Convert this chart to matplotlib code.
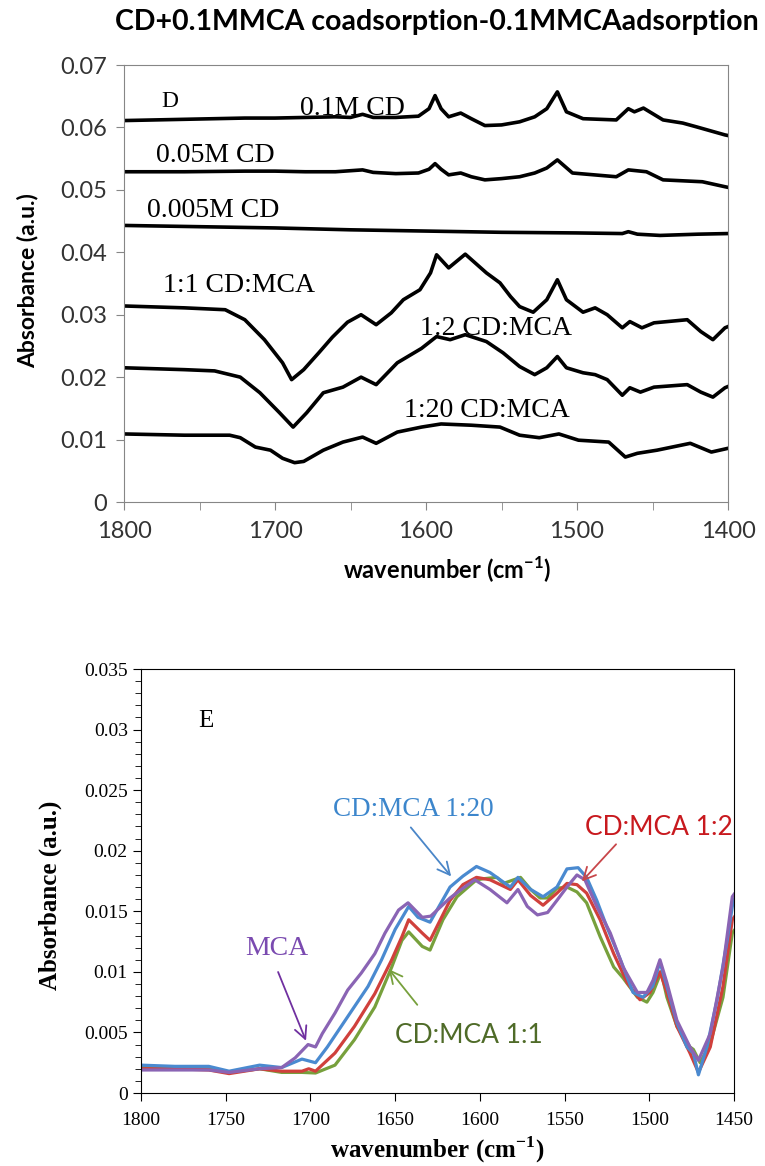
import matplotlib
matplotlib.use("Agg")
import matplotlib.pyplot as plt
from matplotlib.ticker import MultipleLocator, FixedLocator

# ---- panel D data (wavenumber, absorbance) ----
d01_wn = [1800, 1780, 1760, 1740, 1720, 1700, 1680, 1660, 1650, 1642, 1635, 1620, 1605, 1598, 1594,
          1590, 1585, 1577, 1570, 1561, 1550, 1538, 1528, 1520, 1513, 1507, 1496, 1474, 1466, 1462,
          1456, 1443, 1430, 1421, 1402, 1400]
d01_ab = [0.0611, 0.0612, 0.0613, 0.0614, 0.0615, 0.0615, 0.0616, 0.0617, 0.0616, 0.0621, 0.0616, 0.0616,
          0.0618, 0.0630, 0.0651, 0.0630, 0.0617, 0.0623, 0.0614, 0.0603, 0.0604, 0.0609, 0.0617, 0.0630,
          0.0657, 0.0625, 0.0614, 0.0612, 0.0630, 0.0625, 0.0631, 0.0612, 0.0607, 0.0601, 0.0588, 0.0587]

d005_wn = [1800, 1760, 1720, 1700, 1680, 1660, 1642, 1635, 1620, 1605, 1598, 1594, 1590, 1585, 1577,
           1570, 1561, 1550, 1538, 1528, 1520, 1513, 1503, 1474, 1466, 1454, 1443, 1417, 1402, 1400]
d005_ab = [0.0529, 0.0529, 0.0530, 0.0530, 0.0529, 0.0529, 0.0532, 0.0528, 0.0526, 0.0527, 0.0533, 0.0542,
           0.0533, 0.0524, 0.0527, 0.0521, 0.0516, 0.0518, 0.0521, 0.0527, 0.0535, 0.0548, 0.0527, 0.0521,
           0.0532, 0.0529, 0.0516, 0.0513, 0.0505, 0.0504]

d0005_wn = [1800, 1750, 1700, 1650, 1600, 1550, 1500, 1470, 1466, 1460, 1445, 1420, 1400]
d0005_ab = [0.0443, 0.0441, 0.0439, 0.0436, 0.0434, 0.0432, 0.0431, 0.0430, 0.0433, 0.0429, 0.0427,
            0.0429, 0.0430]

r11_wn = [1800, 1760, 1733, 1720, 1707, 1695, 1689, 1681, 1671, 1662, 1652, 1643, 1633, 1623, 1615,
          1604, 1597, 1593, 1585, 1574, 1560, 1551, 1544, 1538, 1529, 1520, 1513, 1507, 1496, 1488,
          1480, 1470, 1465, 1457, 1449, 1427, 1418, 1410, 1402, 1400]
r11_ab = [0.0314, 0.0311, 0.0308, 0.0292, 0.0260, 0.0223, 0.0196, 0.0212, 0.0239, 0.0264, 0.0288, 0.0300,
          0.0284, 0.0303, 0.0324, 0.0340, 0.0367, 0.0396, 0.0375, 0.0397, 0.0367, 0.0351, 0.0329, 0.0313,
          0.0304, 0.0324, 0.0356, 0.0324, 0.0304, 0.0311, 0.0300, 0.0279, 0.0289, 0.0279, 0.0287, 0.0292,
          0.0273, 0.0260, 0.0279, 0.0281]

r12_wn = [1800, 1760, 1740, 1723, 1710, 1697, 1688, 1679, 1668, 1655, 1643, 1633, 1619, 1603, 1593,
          1584, 1574, 1560, 1549, 1538, 1528, 1520, 1513, 1507, 1496, 1488, 1480, 1470, 1465, 1458,
          1449, 1427, 1418, 1410, 1402, 1400]
r12_ab = [0.0215, 0.0212, 0.0210, 0.0200, 0.0175, 0.0143, 0.0120, 0.0143, 0.0175, 0.0184, 0.0200, 0.0188,
          0.0223, 0.0246, 0.0265, 0.0260, 0.0268, 0.0257, 0.0239, 0.0217, 0.0204, 0.0215, 0.0233, 0.0215,
          0.0207, 0.0204, 0.0196, 0.0171, 0.0183, 0.0176, 0.0184, 0.0188, 0.0176, 0.0168, 0.0183, 0.0185]

r120_wn = [1800, 1760, 1730, 1723, 1713, 1703, 1695, 1687, 1681, 1668, 1655, 1642, 1633, 1619, 1603,
           1590, 1570, 1551, 1538, 1525, 1512, 1499, 1479, 1468, 1460, 1447, 1425, 1411, 1400]
r120_ab = [0.0109, 0.0107, 0.0107, 0.0103, 0.0088, 0.0083, 0.0070, 0.0063, 0.0065, 0.0083, 0.0096, 0.0104,
           0.0094, 0.0112, 0.0120, 0.0125, 0.0123, 0.0120, 0.0107, 0.0103, 0.0109, 0.0099, 0.0096, 0.0072,
           0.0078, 0.0083, 0.0094, 0.0080, 0.0086]

d_yticks = [0, 0.01, 0.02, 0.03, 0.04, 0.05, 0.06, 0.07]
d_ylabels = ["0", "0.01", "0.02", "0.03", "0.04", "0.05", "0.06", "0.07"]

# ---- panel E data ----
e120_wn = [1800, 1780, 1760, 1748, 1730, 1717, 1705, 1697, 1690, 1678, 1666, 1658, 1650, 1642, 1636.5,
           1629.4, 1617.6, 1610, 1602, 1594, 1582, 1577.5, 1570, 1562.7, 1554.5, 1548.6, 1542, 1537, 1531,
           1525, 1517, 1509.6, 1503.7, 1498, 1493.7, 1489.6, 1483.7, 1477.8, 1474, 1471, 1466, 1460, 1454,
           1451, 1450]
e120_ab = [0.0023, 0.0022, 0.0022, 0.0018, 0.0023, 0.0021, 0.0028, 0.0025, 0.0038, 0.0063, 0.0088, 0.0110,
           0.0135, 0.0154, 0.0145, 0.0141, 0.0170, 0.0179, 0.0187, 0.0182, 0.0170, 0.0178, 0.0168, 0.0162,
           0.0170, 0.0185, 0.0186, 0.0178, 0.0159, 0.0137, 0.0110, 0.0083, 0.0079, 0.0088, 0.0108, 0.0088,
           0.0058, 0.0038, 0.0033, 0.0015, 0.0038, 0.0077, 0.0126, 0.0154, 0.0160]

e12_wn = [1800, 1780, 1760, 1748, 1730, 1717, 1705, 1701, 1697, 1685.5, 1674, 1662, 1652, 1646, 1642,
          1634, 1629.4, 1617.6, 1610, 1602, 1594, 1582, 1577.5, 1570, 1562.7, 1554.5, 1548.6, 1542.7, 1537,
          1529, 1521, 1513, 1505.5, 1499.6, 1493.7, 1489.6, 1483.7, 1476, 1471, 1464, 1456.5, 1451, 1450]
e12_ab = [0.0020, 0.0020, 0.0019, 0.0016, 0.0020, 0.0018, 0.0018, 0.0020, 0.0018, 0.0033, 0.0055, 0.0082,
          0.0110, 0.0129, 0.0143, 0.0132, 0.0126, 0.0159, 0.0172, 0.0178, 0.0176, 0.0168, 0.0176, 0.0163,
          0.0155, 0.0165, 0.0173, 0.0172, 0.0165, 0.0143, 0.0115, 0.0091, 0.0077, 0.0083, 0.0100, 0.0083,
          0.0055, 0.0033, 0.0017, 0.0038, 0.0088, 0.0143, 0.0145]

e11_wn = [1800, 1780, 1760, 1748, 1730, 1717, 1705, 1697, 1685.5, 1674, 1662, 1652, 1646, 1642, 1634,
          1629.4, 1621.8, 1613.5, 1602, 1597, 1590, 1586, 1580, 1576, 1570, 1564.5, 1560, 1554.5, 1548.6,
          1542.7, 1537, 1529, 1521, 1515.5, 1507, 1501.4, 1497.8, 1493, 1489.6, 1483.7, 1476, 1474, 1470,
          1464, 1456.5, 1451, 1450]
e11_ab = [0.0021, 0.0021, 0.0020, 0.0017, 0.0020, 0.0017, 0.0017, 0.00165, 0.0023, 0.0044, 0.0071, 0.0104,
          0.0126, 0.0133, 0.0121, 0.0118, 0.0143, 0.0162, 0.0176, 0.0177, 0.0178, 0.0173, 0.0176, 0.0178,
          0.0168, 0.0161, 0.0161, 0.0169, 0.0170, 0.0166, 0.0157, 0.0129, 0.0104, 0.0095, 0.0079, 0.0075,
          0.0083, 0.0100, 0.0079, 0.0055, 0.0038, 0.0036, 0.0025, 0.0041, 0.0079, 0.0132, 0.0134]

emca_wn = [1800, 1780, 1760, 1748, 1730, 1717, 1709, 1701.4, 1697, 1693, 1685.5, 1678, 1670, 1662, 1656,
           1648, 1642.4, 1634, 1629, 1617.6, 1610, 1603, 1594, 1584, 1577.5, 1572, 1566, 1560, 1554.5,
           1548.6, 1542.7, 1538, 1531, 1523, 1515.5, 1507, 1501.4, 1497.8, 1493.7, 1489.6, 1483.7, 1476,
           1471, 1464, 1456.5, 1451, 1450]
emca_ab = [0.0019, 0.0019, 0.0019, 0.0017, 0.0020, 0.0021, 0.0029, 0.0040, 0.0038, 0.0049, 0.0066, 0.0085,
           0.0099, 0.0115, 0.0132, 0.0151, 0.0157, 0.0145, 0.0146, 0.0161, 0.0169, 0.0176, 0.0168, 0.0157,
           0.0168, 0.0154, 0.0147, 0.0149, 0.0159, 0.0170, 0.0180, 0.0176, 0.0154, 0.0132, 0.0104, 0.0083,
           0.0083, 0.0093, 0.0110, 0.0091, 0.0060, 0.0038, 0.0027, 0.0049, 0.0104, 0.0162, 0.0164]

e_yticks = [0, 0.005, 0.01, 0.015, 0.02, 0.025, 0.03, 0.035]
e_ylabels = ["0", "0.005", "0.01", "0.015", "0.02", "0.025", "0.03", "0.035"]

SERIF = "Liberation Serif"
SANS = "Lato"
XLABEL = r"wavenumber (cm$^{\mathregular{-1}}$)"

fig = plt.figure(figsize=(7.65, 11.66), dpi=100)

# ---------------- panel D ----------------
ax1 = fig.add_axes([124 / 765, 1 - 502 / 1166, 604 / 765, 437 / 1166])
for wn, ab in [(d01_wn, d01_ab), (d005_wn, d005_ab), (d0005_wn, d0005_ab),
               (r11_wn, r11_ab), (r12_wn, r12_ab), (r120_wn, r120_ab)]:
    ax1.plot(wn, ab, color="black", lw=2.6, solid_joinstyle="round")
ax1.set_xlim(1800, 1400)
ax1.set_ylim(0, 0.07)
ax1.xaxis.set_major_locator(MultipleLocator(100))
ax1.xaxis.set_minor_locator(MultipleLocator(50))
ax1.set_yticks(d_yticks)
ax1.set_yticklabels(d_ylabels)
for s in ax1.spines.values():
    s.set_color("#868686")
ax1.tick_params(which="both", direction="out", length=6, color="#868686")
ax1.tick_params(axis="y", pad=6)
ax1.tick_params(axis="x", pad=8)
for lab in ax1.get_xticklabels() + ax1.get_yticklabels():
    lab.set_fontfamily(SANS)
    lab.set_fontsize(17)
    lab.set_color("#333333")

ax1.text(1775, 0.0633, "D", family=SERIF, fontsize=17)
ax1.text(1683.5, 0.0620, "0.1M CD", family=SERIF, fontsize=20)
ax1.text(1778.8, 0.0545, "0.05M CD", family=SERIF, fontsize=20)
ax1.text(1784.8, 0.0457, "0.005M CD", family=SERIF, fontsize=20)
ax1.text(1774, 0.0337, "1:1 CD:MCA", family=SERIF, fontsize=20)
ax1.text(1604, 0.0268, "1:2 CD:MCA", family=SERIF, fontsize=20)
ax1.text(1614.6, 0.0136, "1:20 CD:MCA", family=SERIF, fontsize=20)

fig.text(437 / 765, 1 - 22 / 1166, "CD+0.1MMCA coadsorption-0.1MMCAadsorption",
         family=SANS, fontweight="bold", fontsize=20.5, ha="center", va="center")
fig.text(447 / 765, 1 - 570 / 1166, XLABEL, family=SANS,
         fontweight="bold", fontsize=17, ha="center", va="center")
fig.text(28 / 765, 1 - 281 / 1166, "Absorbance (a.u.)", family=SANS,
         fontweight="bold", fontsize=16.5, ha="center", va="center", rotation=90)

# ---------------- panel E ----------------
ax2 = fig.add_axes([141 / 765, 1 - 1093 / 1166, 593 / 765, 424 / 1166])
ax2.plot(e11_wn, e11_ab, color="#77A03C", lw=2.3)
ax2.plot(e12_wn, e12_ab, color="#D0403C", lw=2.3)
ax2.plot(e120_wn, e120_ab, color="#4A8AD0", lw=2.3)
ax2.plot(emca_wn, emca_ab, color="#8A64B4", lw=2.3)
ax2.set_xlim(1800, 1450)
ax2.set_ylim(0, 0.035)
ax2.xaxis.set_major_locator(MultipleLocator(50))
ax2.set_yticks(e_yticks)
ax2.set_yticklabels(e_ylabels)
ax2.yaxis.set_minor_locator(FixedLocator([i * 0.001 for i in range(36)]))
ax2.tick_params(which="major", direction="out", length=6)
ax2.tick_params(which="minor", direction="out", length=4)
ax2.tick_params(axis="x", pad=8)
for lab in ax2.get_xticklabels() + ax2.get_yticklabels():
    lab.set_fontfamily(SERIF)
    lab.set_fontsize(14)

ax2.text(1766, 0.0302, "E", family=SERIF, fontsize=18)
ax2.text(1686.7, 0.0229, "CD:MCA 1:20", family=SERIF, fontsize=19.5, color="#3C86CC")
ax2.text(1450.6, 0.0213, "CD:MCA 1:2", family=SANS, fontsize=19, color="#C8191E", ha="right")
ax2.text(1738.6, 0.0114, "MCA", family=SERIF, fontsize=20, color="#7A4AB0")
ax2.text(1650, 0.0041, "CD:MCA 1:1", family=SANS, fontsize=19, color="#4F6B28")

arrows = [((1641.8, 0.0221), (1615.9, 0.0177), "#4A86C8"),
          ((1518.5, 0.0207), (1540.9, 0.0173), "#C8464A"),
          ((1719.7, 0.0102), (1702.0, 0.0041), "#7030A0"),
          ((1635.9, 0.0071), (1654.8, 0.0104), "#77A03C")]
for tail, head, col in arrows:
    ax2.annotate("", xy=head, xytext=tail,
                 arrowprops=dict(arrowstyle="->", color=col, lw=1.3, mutation_scale=22))

fig.text(437 / 765, 1 - 1150 / 1166, XLABEL, family=SERIF,
         fontweight="bold", fontsize=18, ha="center", va="center")
fig.text(50 / 765, 1 - 895 / 1166, "Absorbance (a.u.)", family=SERIF,
         fontweight="bold", fontsize=18, ha="center", va="center", rotation=90)

fig.savefig("out.png", dpi=100)
